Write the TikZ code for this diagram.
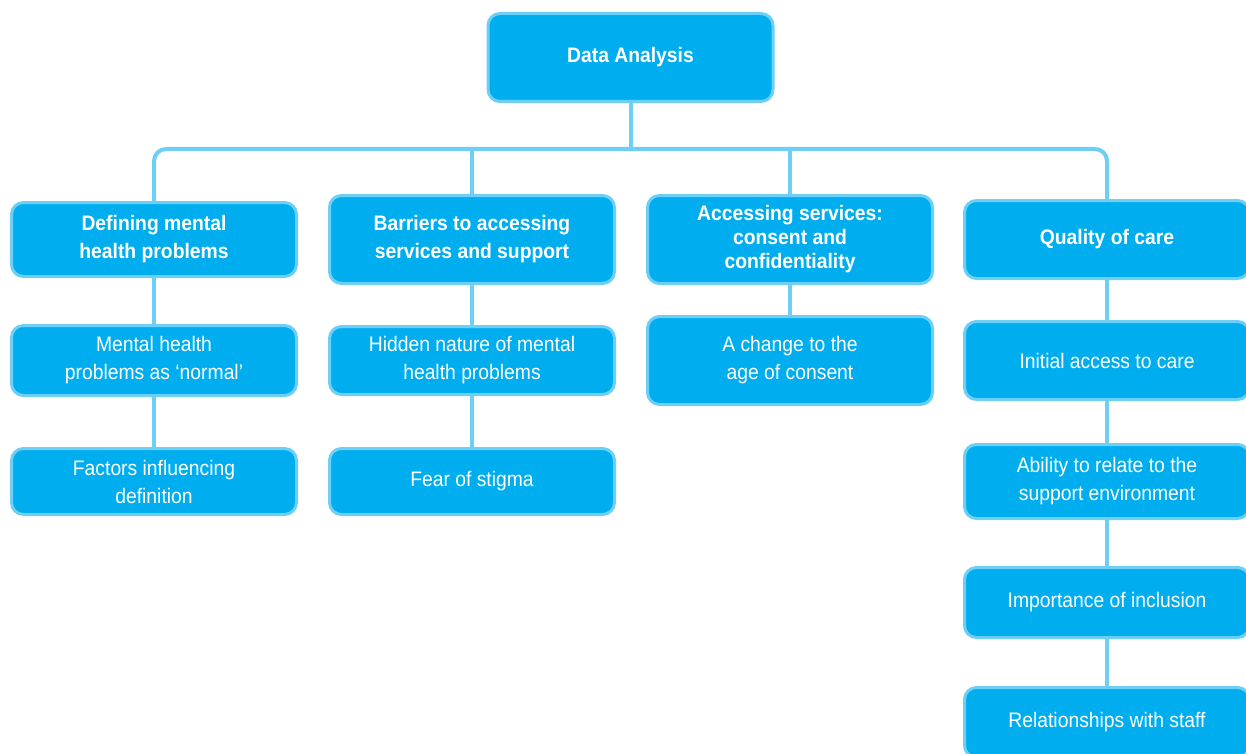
\documentclass[tikz,border=0pt]{standalone}
\usepackage{fontspec}
\setmainfont{Liberation Sans}[FakeStretch=0.92]
\definecolor{boxfill}{HTML}{00AEEF}
\definecolor{boxline}{HTML}{6DCFF6}
\begin{document}
\begin{tikzpicture}[x=1pt,y=-1pt,
  box/.style={draw=boxline, line width=3pt, fill=boxfill, rounded corners=12pt,
    text=white, align=center, minimum width=285pt, inner sep=0pt, outer sep=0pt,
    font=\fontsize{21}{28}\selectfont},
  head/.style={box, font=\fontsize{21}{28}\selectfont\bfseries},
  conn/.style={draw=boxline, line width=4pt}]
\useasboundingbox (0,0) rectangle (1246,754);
\fill[white] (0,0) rectangle (1246,754);

% top
\node[head, minimum height=88pt] (da) at (630.5,57.5) {Data Analysis};

% column 1
\node[head, minimum height=74pt] (d1) at (154,239.5) {Defining mental\\health problems};
\node[box, minimum height=70pt] (d2) at (154,360.5) {Mental health\\problems as ‘normal’};
\node[box, minimum height=66pt] (d3) at (154,481.5) {Factors influencing\\definition};

% column 2
\node[head, minimum height=88pt] (b1) at (472,239.5) {Barriers to accessing\\services and support};
\node[box, minimum height=68pt] (b2) at (472,360.5) {Hidden nature of mental\\health problems};
\node[box, minimum height=66pt] (b3) at (472,481.5) {Fear of stigma};

% column 3
\node[head, minimum height=88pt, font=\fontsize{21}{24}\selectfont\bfseries] (a1) at (790,239.5) {Accessing services:\\consent and\\confidentiality};
\node[box, minimum height=88pt] (a2) at (790,360.5) {A change to the\\age of consent};

% column 4
\node[head, minimum height=78pt] (q1) at (1107,239.5) {Quality of care};
\node[box, minimum height=78pt] (q2) at (1107,360.5) {Initial access to care};
\node[box, minimum height=74pt] (q3) at (1107,481.5) {Ability to relate to the\\support environment};
\node[box, minimum height=70pt] (q4) at (1107,602.5) {Importance of inclusion};
\node[box, minimum height=70pt] (q5) at (1107,722.5) {Relationships with staff};

\coordinate (hb) at (630.5,149);

% connectors
\draw[conn, rounded corners=12pt] (d1.north) |- (hb) -| (q1.north);
\draw[conn] (da.south) -- (hb);
\draw[conn] (b1.north) -- (b1.north |- hb);
\draw[conn] (a1.north) -- (a1.north |- hb);
\draw[conn] (d1.south) -- (d2.north);
\draw[conn] (d2.south) -- (d3.north);
\draw[conn] (b1.south) -- (b2.north);
\draw[conn] (b2.south) -- (b3.north);
\draw[conn] (a1.south) -- (a2.north);
\draw[conn] (q1.south) -- (q2.north);
\draw[conn] (q2.south) -- (q3.north);
\draw[conn] (q3.south) -- (q4.north);
\draw[conn] (q4.south) -- (q5.north);
\end{tikzpicture}
\end{document}
